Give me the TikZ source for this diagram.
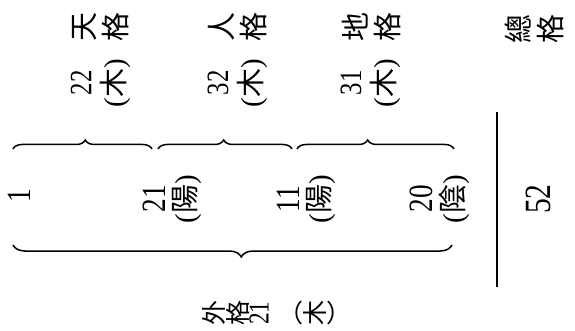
\documentclass[tikz,border=0pt]{standalone}
\usepackage{fontspec}
\setmainfont{Liberation Serif}
\newfontfamily\cjk{Noto Sans CJK TC}
\usepackage{tikz}
\usetikzlibrary{decorations.pathreplacing}

\newcommand{\zh}[1]{{\cjk #1}}
\newcommand{\cond}[1]{\scalebox{0.8}[1]{#1}}

\begin{document}
\begin{tikzpicture}[
    x=1pt, y=1pt,
    every node/.style={inner sep=0pt, text=black},
    vtext/.style={rotate=90, align=center, font=\fontsize{29}{32}\selectfont},
    vnum/.style={rotate=90, font=\fontsize{#1}{#1}\selectfont},
    vnum/.default=32,
    ubrace/.style={decorate, decoration={brace, amplitude=9pt, aspect=#1}, line width=1.5pt},
    ubrace/.default=0.5,
    dbrace/.style={decorate, decoration={brace, amplitude=12pt, aspect=#1}, line width=1.5pt},
    dbrace/.default=0.5,
    rule/.style={line width=1.3pt}
]
\useasboundingbox (0,0) rectangle (575,-331);

% Top: the four grids
\node[vtext] (tian) at (101,-27) {\zh{天}\\\zh{格}};
\node[vtext] (ren) at (238,-27) {\zh{人}\\\zh{格}};
\node[vtext] (di) at (371,-27) {\zh{地}\\\zh{格}};
\node[vtext] (zong) at (534,-29) {\zh{總}\\\zh{格}};

\node[vnum=31] (tiann) at (81,-83) {\cond{22}};
\node[vtext] (tiane) at (115,-83) {(\zh{木})};
\node[vnum=31] (renn) at (218,-83) {\cond{32}};
\node[vtext] (rene) at (252,-83) {(\zh{木})};
\node[vnum=31] (din) at (351,-83) {\cond{31}};
\node[vtext] (die) at (385,-83) {(\zh{木})};

% Middle: strokes
\node[vnum=34] (s1) at (19,-196) {\cond{1}};
\node[vnum=34] (s21) at (154,-199) {\cond{21}};
\node[vtext] (s21e) at (187,-199) {(\zh{陽})};
\node[vnum=34] (s11) at (288,-199) {\cond{11}};
\node[vtext] (s11e) at (321,-199) {(\zh{陽})};
\node[vnum=34] (s20) at (421,-199) {\cond{20}};
\node[vtext] (s20e) at (454,-199) {(\zh{陰})};
\node[vnum=37] (total) at (538,-199) {\cond{52}};

% Braces
\coordinate (a0) at (13,-149);
\coordinate (a1) at (152,-149);
\coordinate (b0) at (158,-149);
\coordinate (b1) at (292,-149);
\coordinate (c0) at (297,-149);
\coordinate (c1) at (454,-149);
\draw[ubrace=0.52] (a0) -- (a1);
\draw[ubrace=0.49] (b0) -- (b1);
\draw[ubrace=0.45] (c0) -- (c1);

\coordinate (d0) at (452,-245);
\coordinate (d1) at (13,-245);
\draw[dbrace=0.48] (d0) -- (d1);

% Rule before the total
\coordinate (rtop) at (497,-112);
\coordinate (rbot) at (497,-287);
\draw[rule] (rtop) -- (rbot);

% Bottom: outer grid
\node[vtext, font=\fontsize{25}{22}\selectfont] (wai) at (226,-313) {\zh{外}\\\zh{格}};
\node[vnum=29] (wain) at (259,-313) {\cond{21}};
\node[font=\fontsize{25}{25}\selectfont] (waie) at (315,-313)
    {\zh{（}\rotatebox[origin=c]{90}{\zh{木}}\zh{）}};

\end{tikzpicture}
\end{document}
